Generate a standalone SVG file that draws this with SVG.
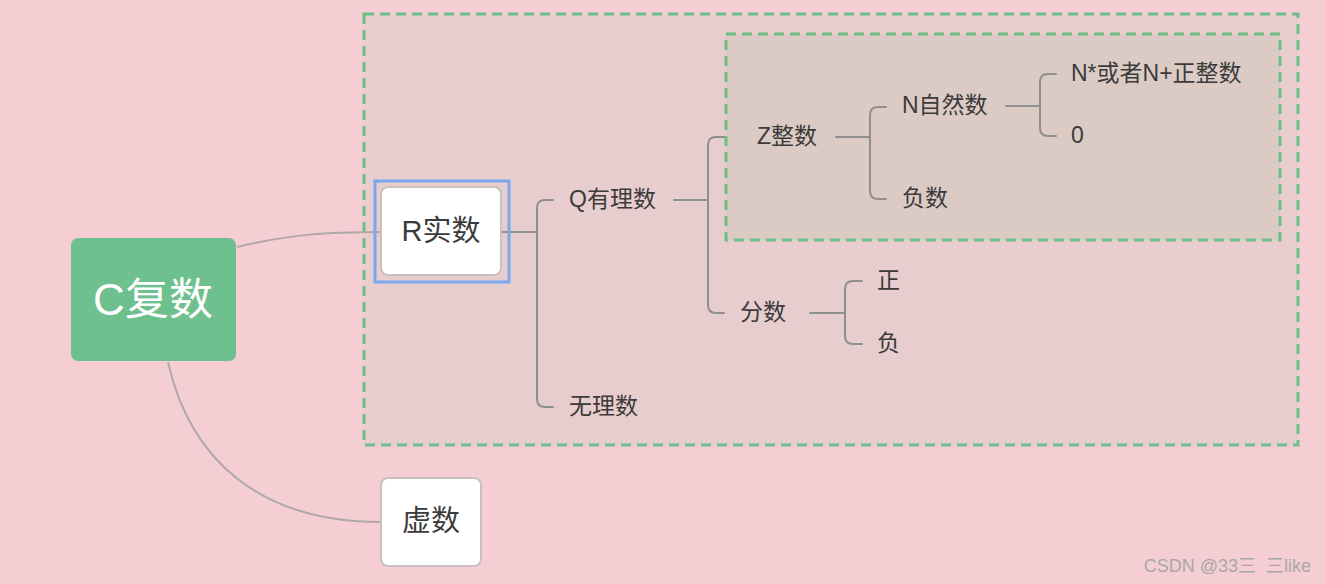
<svg xmlns="http://www.w3.org/2000/svg" width="1326" height="584" viewBox="0 0 1326 584">
<style>
.t{font-family:"Liberation Sans","Noto Sans CJK SC",sans-serif;fill:#3b3b3b;font-size:23px;dominant-baseline:central}
.c{fill:none;stroke:#8f8f8f;stroke-width:2;stroke-linecap:round}
.cc{fill:none;stroke:#b0a8a8;stroke-width:2}
.box{fill:#fff;stroke:#c9c0c0;stroke-width:2}
.dash{stroke:#6cbf86;stroke-width:3;stroke-dasharray:10 6}
</style>
<rect width="1326" height="584" fill="#f5ced3"/>
<g id="boundary-outer"><rect x="364" y="14" width="934" height="431" fill="#e8cdce" class="dash"/></g>
<g id="boundary-inner"><rect x="726" y="34" width="554" height="206" fill="#dccbc4" class="dash"/></g>
<g id="connectors">
<path class="cc" d="M237 247 C290 234 330 232 381 232"/>
<path class="cc" d="M168 362 C190 460 260 522 381 522"/>
<path class="c" d="M501 232 H537 M553 200 H545 Q537 200 537 208 V399 Q537 407 545 407 H553"/>
<path class="c" d="M674 200 H708 M724 137 H716 Q708 137 708 145 V305 Q708 313 716 313 H724"/>
<path class="c" d="M836 137 H870 M886 107 H878 Q870 107 870 115 V191 Q870 199 878 199 H886"/>
<path class="c" d="M1006 106 H1040 M1056 74 H1048 Q1040 74 1040 82 V128 Q1040 136 1048 136 H1056"/>
<path class="c" d="M810 313 H845 M862 281 H853 Q845 281 845 289 V336 Q845 344 853 344 H862"/>
</g>
<g id="node-c"><rect x="71" y="238" width="165" height="123" rx="7" fill="#6fc08f"/><text class="t" x="153" y="299" text-anchor="middle" style="fill:#fff;font-size:44px">C复数</text></g>
<g id="node-r"><rect x="375" y="181" width="134" height="101" fill="none" stroke="#78a8f0" stroke-width="3"/><rect class="box" x="381" y="187" width="120" height="88" rx="7"/><text class="t" x="441" y="231" text-anchor="middle" style="font-size:29px">R实数</text></g>
<g id="node-xu"><rect class="box" x="381" y="478" width="100" height="88" rx="7"/><text class="t" x="431" y="521" text-anchor="middle" style="font-size:29px">虚数</text></g>
<g id="node-q"><text class="t" x="569" y="199">Q有理数</text></g>
<g id="node-wl"><text class="t" x="569" y="406">无理数</text></g>
<g id="node-z"><text class="t" x="757" y="136">Z整数</text></g>
<g id="node-fs"><text class="t" x="740" y="312">分数</text></g>
<g id="node-n"><text class="t" x="902" y="105">N自然数</text></g>
<g id="node-fu"><text class="t" x="902" y="198">负数</text></g>
<g id="node-np"><text class="t" x="1071" y="73">N*或者N+正整数</text></g>
<g id="node-0"><text class="t" x="1071" y="135">0</text></g>
<g id="node-zheng"><text class="t" x="877" y="280">正</text></g>
<g id="node-fu2"><text class="t" x="877" y="343">负</text></g>
<text x="1311" y="566" text-anchor="end" dominant-baseline="central" style="font-family:'Liberation Sans','Noto Sans CJK SC',sans-serif;font-size:18px;fill:#a8a8a8;white-space:pre">CSDN @33三  三like</text>
</svg>
